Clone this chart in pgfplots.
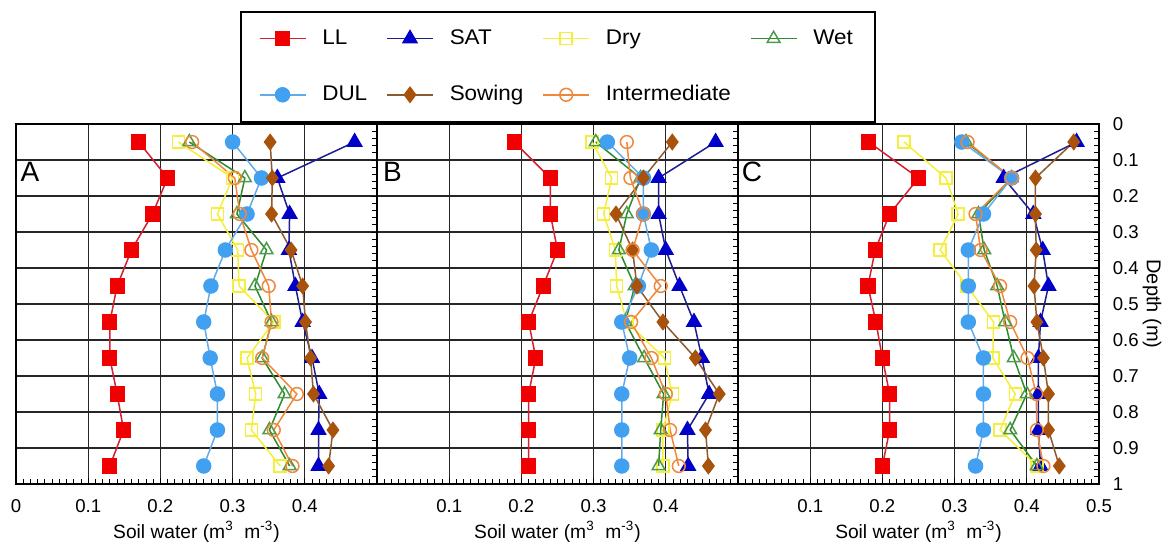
\documentclass[border=0pt]{standalone}
\usepackage{pgfplots}
\pgfplotsset{compat=1.18}
\usepackage{pgfplotstable}
\usepackage{fontspec}
\setmainfont{Liberation Sans}
\newfontfamily\legfont[FakeStretch=1.06]{Liberation Sans}

\definecolor{LLm}{HTML}{F00000}
\definecolor{LLl}{HTML}{D22030}
\definecolor{SATm}{HTML}{0000C8}
\definecolor{SATl}{HTML}{1E1E8C}
\definecolor{Dryc}{HTML}{F5EE3A}
\definecolor{Wetc}{HTML}{2E8B2E}
\definecolor{DULm}{HTML}{42A0F0}
\definecolor{DULl}{HTML}{64AAE6}
\definecolor{Sowm}{HTML}{A8520C}
\definecolor{Sowl}{HTML}{8C5A30}
\definecolor{Intc}{HTML}{F0883C}

\pgfplotstableread{
depth LL SAT Dry Wet DUL Sowing Inter
0.05 0.170 0.469 0.225 0.240 0.300 0.352 0.244
0.15 0.210 0.362 0.300 0.317 0.340 0.355 0.303
0.25 0.189 0.379 0.279 0.306 0.320 0.354 0.310
0.35 0.160 0.378 0.307 0.347 0.290 0.381 0.326
0.45 0.140 0.387 0.309 0.331 0.270 0.397 0.350
0.55 0.130 0.397 0.357 0.354 0.260 0.401 0.354
0.65 0.130 0.410 0.320 0.341 0.269 0.408 0.341
0.75 0.140 0.420 0.332 0.372 0.279 0.412 0.389
0.85 0.149 0.419 0.326 0.351 0.279 0.439 0.357
0.95 0.130 0.419 0.366 0.379 0.260 0.433 0.383
}\tabA

\pgfplotstableread{
depth LL SAT Dry Wet DUL Sowing Inter
0.05 0.190 0.469 0.298 0.303 0.319 0.409 0.346
0.15 0.240 0.390 0.325 0.365 0.369 0.369 0.351
0.25 0.240 0.390 0.314 0.346 0.369 0.331 0.369
0.35 0.250 0.400 0.330 0.335 0.380 0.354 0.354
0.45 0.230 0.419 0.332 0.357 0.362 0.360 0.393
0.55 0.210 0.439 0.346 0.344 0.339 0.396 0.352
0.65 0.220 0.450 0.398 0.370 0.350 0.441 0.380
0.75 0.210 0.460 0.409 0.397 0.339 0.474 0.400
0.85 0.210 0.430 0.396 0.393 0.339 0.455 0.406
0.95 0.210 0.431 0.396 0.390 0.339 0.459 0.418
}\tabB

\pgfplotstableread{
depth LL SAT Dry Wet DUL Sowing Inter
0.05 0.181 0.469 0.230 0.316 0.310 0.465 0.318
0.15 0.250 0.368 0.288 0.379 0.379 0.412 0.379
0.25 0.210 0.409 0.305 0.333 0.340 0.412 0.329
0.35 0.190 0.422 0.280 0.341 0.319 0.413 0.336
0.45 0.180 0.430 0.317 0.359 0.319 0.410 0.363
0.55 0.191 0.419 0.354 0.370 0.319 0.414 0.377
0.65 0.200 0.416 0.353 0.382 0.340 0.423 0.401
0.75 0.210 0.416 0.384 0.400 0.340 0.430 0.413
0.85 0.210 0.416 0.363 0.377 0.340 0.430 0.414
0.95 0.200 0.419 0.414 0.414 0.329 0.445 0.423
}\tabC

\pgfplotsset{
  sLL/.style={color=LLl, line width=0.75pt, mark=square*, mark size=3.4pt, mark options={solid, draw=LLm, fill=LLm}},
  sSAT/.style={color=SATl, line width=0.75pt, mark=triangle*, mark size=4pt, mark options={solid, draw=SATm, fill=SATm}},
  sDry/.style={color=Dryc, line width=0.75pt, mark=square, mark size=3pt, mark options={solid, draw=Dryc}},
  sWet/.style={color=Wetc, line width=0.75pt, mark=triangle, mark size=3.7pt, mark options={solid, draw=Wetc!85!white}},
  sDUL/.style={color=DULl, line width=0.75pt, mark=*, mark size=3.5pt, mark options={solid, draw=DULm, fill=DULm}},
  sSow/.style={color=Sowl, line width=0.75pt, mark=diamond*, mark size=3.7pt, mark options={solid, draw=Sowm, fill=Sowm}},
  sInt/.style={color=Intc, line width=0.75pt, mark=o, mark size=3.2pt, mark options={solid, draw=Intc}},
  panel/.style={
    scale only axis, width=180.5pt, height=180pt,
    xmin=0, xmax=0.5, ymin=0, ymax=1, y dir=reverse,
    xtick={0,0.1,0.2,0.3,0.4,0.5},
    ytick={0,0.1,0.2,0.3,0.4,0.5,0.6,0.7,0.8,0.9,1},
    minor x tick num=9, minor y tick num=4,
    xtick pos=bottom, ytick pos=right,
    tick align=inside,
    major tick length=3pt, minor tick length=2.5pt,
    every tick/.style={black, line width=0.4pt},
    grid=major, major grid style={black!85, line width=0.55pt},
    axis line style={black, line width=0.9pt},
    tick label style={font=\fontsize{9.3}{11}\selectfont},
    xticklabel style={anchor=base, yshift=-14pt},
    yticklabels={},
    xlabel={Soil water (m\textsuperscript{3}\ \ m\textsuperscript{-3})},
    xlabel style={font=\fontsize{9.6}{11}\selectfont, at={(axis description cs:0.5,-0.15)}, anchor=base},
  },
}

\begin{document}
\begin{tikzpicture}
\path[use as bounding box] (0,0) rectangle (581.5pt,-272.5pt);

\begin{axis}[panel, at={(8pt,-242pt)}, anchor=south west,
  xticklabels={0,0.1,0.2,0.3,0.4,{}},
  legend columns=4,
  legend cell align=left,
  legend image code/.code={\draw[mark repeat=2,mark phase=2] plot coordinates {(0pt,0pt)(11.5pt,0pt)(23pt,0pt)};},
  legend style={at={(0.6205,1.3139)}, anchor=north west, draw=black, line width=0.8pt,
    font=\legfont\fontsize{10.6}{12}\selectfont, inner xsep=9pt, inner ysep=7pt, row sep=15pt,
    /tikz/every even column/.append style={column sep=7.5pt},
    /tikz/every odd column/.append style={column sep=6pt}},
]
\addplot[sLL] table[x=LL,y=depth]{\tabA};
\addlegendentry{LL}
\addplot[sSAT] table[x=SAT,y=depth]{\tabA};
\addlegendentry{SAT}
\addplot[sDry] table[x=Dry,y=depth]{\tabA};
\addlegendentry{Dry}
\addplot[sWet] table[x=Wet,y=depth]{\tabA};
\addlegendentry{Wet}
\addplot[sDUL] table[x=DUL,y=depth]{\tabA};
\addlegendentry{DUL}
\addplot[sSow] table[x=Sowing,y=depth]{\tabA};
\addlegendentry{Sowing}
\addplot[sInt] table[x=Inter,y=depth]{\tabA};
\addlegendentry{Intermediate}
\node[font=\fontsize{14}{16}\selectfont] at (axis cs:0.0195,0.133) {A};
\end{axis}

\begin{axis}[panel, at={(188.5pt,-242pt)}, anchor=south west,
  xticklabels={{},0.1,0.2,0.3,0.4,{}}]
\addplot[sLL] table[x=LL,y=depth]{\tabB};
\addplot[sSAT] table[x=SAT,y=depth]{\tabB};
\addplot[sDry] table[x=Dry,y=depth]{\tabB};
\addplot[sWet] table[x=Wet,y=depth]{\tabB};
\addplot[sDUL] table[x=DUL,y=depth]{\tabB};
\addplot[sSow] table[x=Sowing,y=depth]{\tabB};
\addplot[sInt] table[x=Inter,y=depth]{\tabB};
\node[font=\fontsize{14}{16}\selectfont] at (axis cs:0.0215,0.133) {B};
\end{axis}

\begin{axis}[panel, at={(369pt,-242pt)}, anchor=south west,
  xticklabels={{},0.1,0.2,0.3,0.4,0.5},
  yticklabel pos=right,
  yticklabels={0,0.1,0.2,0.3,0.4,0.5,0.6,0.7,0.8,0.9,1},
  yticklabel style={anchor=west, xshift=3.4pt},
  ylabel={Depth (m)},
  ylabel style={font=\fontsize{10}{12}\selectfont, at={(axis description cs:1.147,0.5)}, anchor=center, rotate=180},
]
\addplot[sLL] table[x=LL,y=depth]{\tabC};
\addplot[sSAT] table[x=SAT,y=depth]{\tabC};
\addplot[sDry] table[x=Dry,y=depth]{\tabC};
\addplot[sWet] table[x=Wet,y=depth]{\tabC};
\addplot[sDUL] table[x=DUL,y=depth]{\tabC};
\addplot[sSow] table[x=Sowing,y=depth]{\tabC};
\addplot[sInt] table[x=Inter,y=depth]{\tabC};
\node[font=\fontsize{14}{16}\selectfont] at (axis cs:0.0195,0.133) {C};
\end{axis}
\end{tikzpicture}
\end{document}
